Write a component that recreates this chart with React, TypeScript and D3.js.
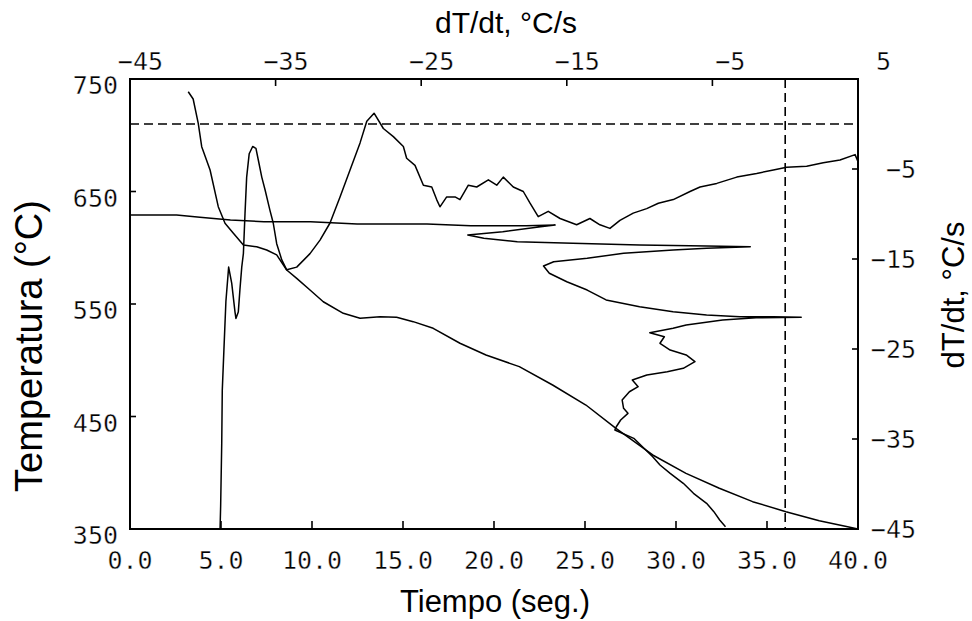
import React from 'react';
import * as d3 from 'd3';

// Temperature vs time (bottom + left axes)
const tempTime = [3.20, 3.47, 3.75, 3.94, 4.40, 4.85, 5.22, 5.68, 6.23, 6.96, 7.51, 8.06, 8.61, 9.16, 9.89, 10.62, 11.72, 12.64, 13.74, 14.65, 15.56, 16.66, 18.13, 19.56, 21.39, 23.22, 25.05, 26.70, 28.72, 30.55, 32.38, 34.21, 36.04, 37.87, 39.43, 40.0];
const tempValues = [738.7, 732.2, 710.6, 689.8, 669.1, 636.5, 621.7, 612.8, 602.4, 600.9, 598.0, 593.6, 580.2, 572.8, 562.4, 552.0, 541.7, 537.3, 538.7, 538.2, 534.3, 528.4, 515.1, 504.7, 494.3, 478.0, 460.2, 439.5, 415.8, 399.5, 386.2, 374.3, 365.4, 357.4, 352.0, 350.0];

// dT/dt vs time (bottom + right axes)
const rateTime = [4.95, 4.98, 5.04, 5.07, 5.16, 5.27, 5.42, 5.59, 5.77, 5.82, 5.95, 6.04, 6.14, 6.23, 6.32, 6.41, 6.55, 6.74, 6.92, 7.05, 7.24, 7.42, 7.69, 7.87, 8.06, 8.34, 8.61, 9.16, 9.89, 10.44, 10.99, 11.54, 12.09, 12.64, 13.01, 13.41, 13.92, 14.47, 15.02, 15.2, 15.66, 16.12, 16.58, 16.85, 17.03, 17.40, 17.86, 18.13, 18.59, 19.05, 19.69, 20.15, 20.51, 21.06, 21.61, 21.98, 22.43, 22.98, 23.63, 24.54, 25.27, 25.82, 26.37, 26.92, 27.65, 28.39, 29.03, 29.85, 30.77, 31.32, 32.24, 33.34, 34.43, 35.35, 36.08, 37.18, 38.09, 39.01, 39.84, 40.0];
const rateValues = [-44.9, -42.5, -35.5, -29.6, -25.1, -19.7, -15.9, -17.7, -20.9, -21.6, -20.9, -18.4, -15.9, -14.4, -9.9, -5.9, -3.3, -2.5, -2.7, -4.0, -5.9, -7.3, -9.6, -11.0, -13.3, -15.1, -16.2, -15.9, -14.4, -12.9, -11.0, -8.1, -5.1, -2.1, 0.3, 1.2, -0.5, -1.4, -2.5, -3.8, -4.6, -6.8, -7.0, -8.4, -9.2, -8.1, -8.1, -8.4, -6.8, -7.0, -6.2, -6.8, -5.9, -7.0, -7.5, -8.8, -10.3, -9.7, -10.5, -11.2, -10.5, -11.2, -11.6, -10.7, -9.9, -9.4, -8.8, -8.4, -7.5, -7.0, -6.6, -5.9, -5.5, -5.1, -4.8, -4.7, -4.3, -4.0, -3.4, -4.2];

// Temperature vs dT/dt (top + left axes)
const phaseRate = [-45, -41.8, -40.2, -38.1, -35.8, -32.6, -29.4, -26.5, -24.6, -21.6, -17.8, -15.8, -16.8, -19.4, -21.8, -20.7, -18.4, -14.6, -10.0, -5.4, -2.4, -5.4, -7.7, -11.1, -13.6, -15.9, -16.6, -16.2, -15.0, -13.6, -12.3, -10.0, -7.7, -5.4, -3.1, -0.8, 1.1, -2.0, -4.3, -6.8, -7.7, -9.3, -8.3, -8.6, -7.9, -6.8, -6.2, -7.0, -8.1, -9.5, -10.5, -10.1, -10.7, -11.2, -11.1, -10.8, -11.3, -11.6, -11.7, -10.4, -9.7, -9.1, -8.6, -7.9, -7.0, -6.3, -5.4, -4.9, -4.5, -4.1];
const phaseTemp = [629.1, 629.1, 627.1, 624.7, 623.2, 623.2, 621.1, 621.1, 621.1, 619.6, 619.6, 620.2, 618.7, 614.3, 611.3, 608.4, 605.4, 604.0, 602.4, 601.6, 600.9, 599.5, 598.0, 595.1, 590.6, 587.6, 583.8, 577.3, 569.8, 562.4, 553.6, 547.6, 543.2, 540.2, 538.7, 538.7, 538.2, 537.8, 535.8, 531.3, 528.4, 524.5, 520.9, 515.1, 509.1, 504.7, 498.7, 492.8, 489.8, 486.9, 482.4, 476.5, 472.0, 464.7, 457.3, 452.8, 446.9, 440.9, 438.0, 430.6, 421.7, 414.3, 406.9, 399.5, 390.6, 381.7, 372.8, 365.4, 358.0, 352.0];

const timeTicks = [0, 5, 10, 15, 20, 25, 30, 35, 40];
const tempTicks = [350, 450, 550, 650, 750];
const rateTicks = [-45, -35, -25, -15, -5, 5];
const rightRateTicks = [-45, -35, -25, -15, -5];
const zeroRate = 0;

const L = 130, R = 858, T = 79, B = 529;
const tickFont = "'DejaVu Sans Mono', monospace";
const titleFont = "'Liberation Sans', Arial, sans-serif";

const fmtMinus = (v: number) => (v < 0 ? '\u2212' + Math.abs(v) : String(v));

export default function App() {
  const x = d3.scaleLinear().domain([0, 40]).range([L, R]);
  const yT = d3.scaleLinear().domain([350, 750]).range([B, T]);
  const yR = d3.scaleLinear().domain([-45, 5]).range([B, T]);
  const xR = d3.scaleLinear().domain([-45, 5]).range([L, R]);

  const tempLine = d3.line<number>().x((_, i) => x(tempTime[i])).y((v) => yT(v))(tempValues) || '';
  const rateLine = d3.line<number>().x((_, i) => x(rateTime[i])).y((v) => yR(v))(rateValues) || '';
  const phaseLine = d3.line<number>().x((v) => xR(v)).y((_, i) => yT(phaseTemp[i]))(phaseRate) || '';

  const lab = { fontFamily: tickFont, fontSize: 25, fill: '#000', stroke: '#fff', strokeWidth: 0.35 } as const;

  return (
    <svg width={972} height={621} style={{ position: 'absolute', left: 0, top: 0, background: '#fff' }}>
      <defs>
        <clipPath id="plot">
          <rect x={L} y={T} width={R - L} height={B - T} />
        </clipPath>
      </defs>
      <rect x={0} y={0} width={972} height={621} fill="#fff" />
      <g clipPath="url(#plot)" fill="none" stroke="#000" strokeWidth={1.5} strokeLinejoin="round">
        <line x1={L} x2={R} y1={yR(zeroRate)} y2={yR(zeroRate)} strokeDasharray="9,5" strokeWidth={1.6} />
        <line x1={xR(zeroRate)} x2={xR(zeroRate)} y1={T} y2={B} strokeDasharray="9,5" strokeWidth={1.6} />
        <path d={tempLine} />
        <path d={rateLine} />
        <path d={phaseLine} />
      </g>
      <rect x={L} y={T} width={R - L} height={B - T} fill="none" stroke="#000" strokeWidth={2} />
      <g stroke="#000" strokeWidth={1.6}>
        {timeTicks.slice(1, -1).map((t) => (
          <line key={'bt' + t} x1={x(t)} x2={x(t)} y1={B} y2={B - 8} />
        ))}
        {tempTicks.slice(1, -1).map((t) => (
          <line key={'lt' + t} x1={L} x2={L + 6} y1={yT(t)} y2={yT(t)} />
        ))}
        {rightRateTicks.slice(1).map((t) => (
          <line key={'rt' + t} x1={R} x2={R - 6} y1={yR(t)} y2={yR(t)} />
        ))}
        {rateTicks.slice(1, -1).map((t) => (
          <line key={'tt' + t} x1={xR(t)} x2={xR(t)} y1={T} y2={T + 7} />
        ))}
      </g>
      {timeTicks.map((t) => (
        <text key={'bl' + t} x={x(t)} y={569} textAnchor="middle" {...lab}>
          {t.toFixed(1)}
        </text>
      ))}
      {tempTicks.map((t) => (
        <text key={'ll' + t} x={118} y={yT(t) + 15} textAnchor="end" {...lab}>
          {t}
        </text>
      ))}
      {rightRateTicks.map((t) => (
        <text key={'rl' + t} x={916} y={yR(t) + 9} textAnchor="end" {...lab}>
          {fmtMinus(t)}
        </text>
      ))}
      {rateTicks.map((t) => (
        <text key={'tl' + t} x={xR(t) + 33} y={70} textAnchor="end" {...lab}>
          {fmtMinus(t)}
        </text>
      ))}
      <text x={506} y={33} textAnchor="middle" fontFamily={titleFont} fontSize={30}>
        dT/dt, °C/s
      </text>
      <text x={495} y={612} textAnchor="middle" fontFamily={titleFont} fontSize={31}>
        Tiempo (seg.)
      </text>
      <text transform="translate(42,346) rotate(-90)" textAnchor="middle" fontFamily={titleFont} fontSize={38}>
        Temperatura (°C)
      </text>
      <text transform="translate(964,295) rotate(-90)" textAnchor="middle" fontFamily={titleFont} fontSize={31}>
        dT/dt, °C/s
      </text>
    </svg>
  );
}
